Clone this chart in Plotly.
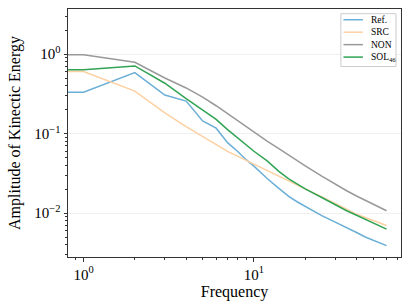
import plotly.graph_objects as go

# ---- data ----
freq = [0, 1, 2, 3, 4, 5, 6, 7, 8, 9, 10, 12, 14, 16, 18, 20, 25, 30, 35, 40, 45, 50, 55, 60]
ref_vals = [0.332, 0.332, 0.586, 0.305, 0.256, 0.144, 0.117, 0.077, 0.060, 0.047, 0.039, 0.027,
            0.0205, 0.0162, 0.0138, 0.0121, 0.0093, 0.0077, 0.0066, 0.0057, 0.0050, 0.00455, 0.0042, 0.0039]
src_vals = [0.604, 0.604, 0.342, 0.182, 0.122, 0.091, 0.0725, 0.0598, 0.0521, 0.0462, 0.0414, 0.0343,
            0.0293, 0.0255, 0.0226, 0.0203, 0.0160, 0.0132, 0.0112, 0.0097, 0.0088, 0.0081, 0.0075, 0.0070]
non_vals = [0.98, 0.98, 0.79, 0.50, 0.375, 0.287, 0.224, 0.178, 0.146, 0.122, 0.104, 0.080,
            0.0647, 0.0535, 0.0456, 0.0394, 0.0291, 0.0229, 0.0191, 0.0164, 0.0144, 0.0129, 0.0117, 0.0107]
sol_vals = [0.634, 0.634, 0.71, 0.43, 0.275, 0.197, 0.151, 0.112, 0.088, 0.071, 0.060, 0.045,
            0.0335, 0.027, 0.0232, 0.0202, 0.0157, 0.0126, 0.0107, 0.0094, 0.0084, 0.0075, 0.0068, 0.0063]

series_names = ["Ref.", "SRC", "NON", "SOL<sub>46</sub>"]
series_colors = ["#6baed6", "#fdd0a2", "#999999", "#31a354"]

x_tickvals = [1, 10]
x_ticktext = ["10<sup>0</sup>", "10<sup>1</sup>"]
y_tickvals = [0.01, 0.1, 1]
y_ticktext = ["10<sup>\u22122</sup>", "10<sup>\u22121</sup>", "10<sup>0</sup>"]

# frequency 0 cannot sit on a log axis: clip it far to the left (like matplotlib)
x_plot = [f if f > 0 else 1e-3 for f in freq]

fig = go.Figure()
for name, vals, col in zip(series_names, [ref_vals, src_vals, non_vals, sol_vals], series_colors):
    fig.add_trace(go.Scatter(x=x_plot, y=vals, mode="lines", name=name, showlegend=False,
                             line=dict(color=col, width=1.5)))

x_minor = [m * 10 ** e for e in (-1, 0, 1) for m in range(2, 10)]
y_minor = [m * 10 ** e for e in (-3, -2, -1, 0) for m in range(2, 10)]

font_family = "Liberation Serif, Times New Roman, serif"
axis_common = dict(type="log", showline=True, linecolor="#333333", linewidth=1, mirror=True,
                   ticks="outside", ticklen=3.5, tickcolor="#333333", tickwidth=1,
                   tickfont=dict(family=font_family, size=15, color="#000"),
                   zeroline=False)

fig.update_xaxes(**axis_common, range=[-0.0912, 1.863], tickvals=x_tickvals, ticktext=x_ticktext,
                 showgrid=False,
                 minor=dict(tickvals=x_minor, ticks="outside", ticklen=2, tickcolor="#333333", showgrid=False),
                 title=dict(text="Frequency", font=dict(family=font_family, size=16, color="#000"), standoff=4))
fig.update_yaxes(**axis_common, range=[-2.552, 0.567], tickvals=y_tickvals, ticktext=y_ticktext,
                 showgrid=True, gridcolor="#f0f0f0", gridwidth=1,
                 minor=dict(tickvals=y_minor, ticks="outside", ticklen=2, tickcolor="#333333", showgrid=False),
                 title=dict(text="Amplitude of Kinectic Energy", font=dict(family=font_family, size=16, color="#000"), standoff=9))

# ---- compact legend (matplotlib-like), built from the series lists ----
leg_x0, leg_x1, leg_y0, leg_y1 = 0.8194, 0.985, 0.768, 0.981
fig.add_shape(type="rect", xref="paper", yref="paper", x0=leg_x0, x1=leg_x1, y0=leg_y0, y1=leg_y1,
              line=dict(color="#cccccc", width=1), fillcolor="rgba(255,255,255,0.8)", layer="above")
row_top, row_step = 0.9567, 0.0502
for i, (name, col) in enumerate(zip(series_names, series_colors)):
    yy = row_top - i * row_step
    fig.add_shape(type="line", xref="paper", yref="paper", x0=0.8272, x1=0.8856, y0=yy, y1=yy,
                  line=dict(color=col, width=1.5), layer="above")
    fig.add_annotation(xref="paper", yref="paper", x=0.9046, y=yy, text=name, showarrow=False,
                       xanchor="left", yanchor="middle",
                       font=dict(family=font_family, size=9.5, color="#000"))

fig.update_layout(width=409, height=307, margin=dict(l=68, r=8, t=9, b=50),
                  paper_bgcolor="white", plot_bgcolor="white", showlegend=False)

fig.write_html("out.html", config={"displayModeBar": False},
               post_script="document.body.style.margin='0';")
